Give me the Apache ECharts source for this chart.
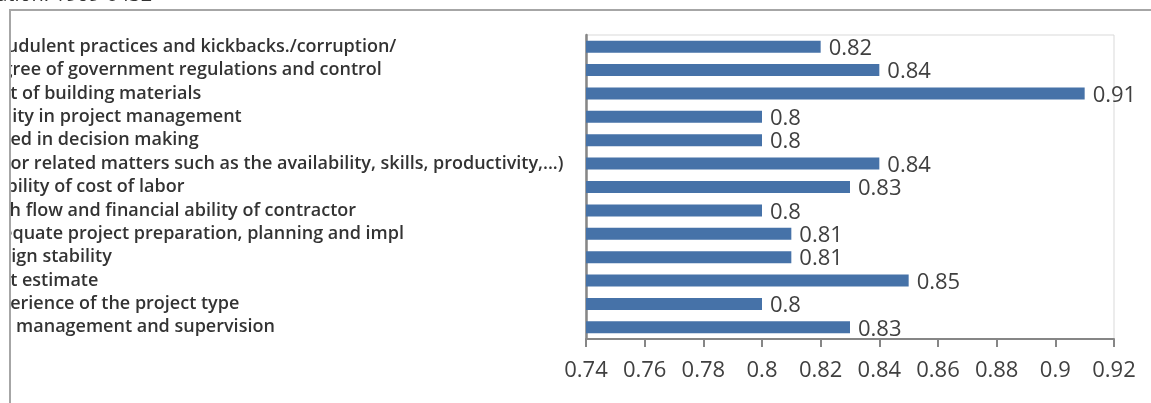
<!DOCTYPE html>
<html>
<head>
<meta charset="utf-8">
<script src="https://cdn.jsdelivr.net/npm/echarts@6/dist/echarts.min.js"></script>
<style>
html,body{margin:0;padding:0;background:#fff;}
#c{width:1151px;height:403px;}
</style>
</head>
<body>
<div id="c"></div>
<script>
const categories = [
  "Fraudulent practices and kickbacks./corruption/",
  "Degree of government regulations and control",
  "Cost of building materials",
  "Ability in project management",
  "Speed in decision making",
  "Labor related matters such as the availability, skills, productivity,...)",
  "Stability of cost of labor",
  "Cash flow and financial ability of contractor",
  "Adequate project preparation, planning and impl",
  "Design stability",
  "Cost estimate",
  "Experience of the project type",
  "Site management and supervision"
];
const values = [0.82, 0.84, 0.91, 0.8, 0.8, 0.84, 0.83, 0.8, 0.81, 0.81, 0.85, 0.8, 0.83];
const xTicks = [0.74, 0.76, 0.78, 0.8, 0.82, 0.84, 0.86, 0.88, 0.9, 0.92];
const headerText = "Publication: 1969-0432";

const chart = echarts.init(document.getElementById('c'), null, {renderer: 'canvas'});
chart.setOption({
  animation: false,
  backgroundColor: '#ffffff',
  grid: {
    left: 586, right: 37, top: 35, bottom: 64,
    show: true, borderColor: '#d9d9d9', borderWidth: 1,
    containLabel: false, outerBoundsMode: 'none'
  },
  xAxis: {
    type: 'value',
    min: xTicks[0], max: xTicks[xTicks.length - 1], interval: 0.02,
    splitLine: {show: false},
    axisLine: {show: true, lineStyle: {color: '#868686', width: 2}},
    axisTick: {show: true, length: 8, lineStyle: {color: '#868686', width: 2}},
    axisLabel: {
      fontSize: 22, color: '#404040', fontFamily: 'Open Sans', margin: 21,
      formatter: function (v) {
        const m = xTicks.find(t => Math.abs(t - v) < 1e-9);
        return m !== undefined ? String(m) : '';
      }
    }
  },
  yAxis: {
    type: 'category',
    data: categories,
    inverse: true,
    axisLine: {show: true, lineStyle: {color: '#868686', width: 2.5}},
    axisTick: {show: false},
    axisLabel: {
      interval: 0, hideOverlap: false,
      align: 'left', margin: 607, fontSize: 18, fontWeight: 600,
      color: '#333333', fontFamily: 'Open Sans', padding: [5, 0, 0, 0]
    }
  },
  series: [{
    type: 'bar',
    data: values,
    barWidth: 12,
    itemStyle: {color: '#4672a8'},
    label: {
      show: true, position: 'right', distance: 8, offset: [0, 2],
      fontSize: 22, color: '#404040', fontFamily: 'Open Sans'
    }
  }],
  graphic: [
    {type: 'rect', shape: {x: 0, y: 9, width: 9, height: 400}, style: {fill: '#ffffff'}, z: 100},
    {type: 'line', shape: {x1: 10, y1: 10, x2: 1151, y2: 10}, style: {stroke: '#a6a6a6', lineWidth: 2}, z: 101},
    {type: 'line', shape: {x1: 10, y1: 9, x2: 10, y2: 403}, style: {stroke: '#a6a6a6', lineWidth: 2}, z: 101},
    {type: 'text', x: -60, y: -15, style: {text: headerText, fontSize: 20, fill: '#333333', fontFamily: 'Open Sans', textVerticalAlign: 'top'}, z: 101}
  ]
});
</script>
</body>
</html>
